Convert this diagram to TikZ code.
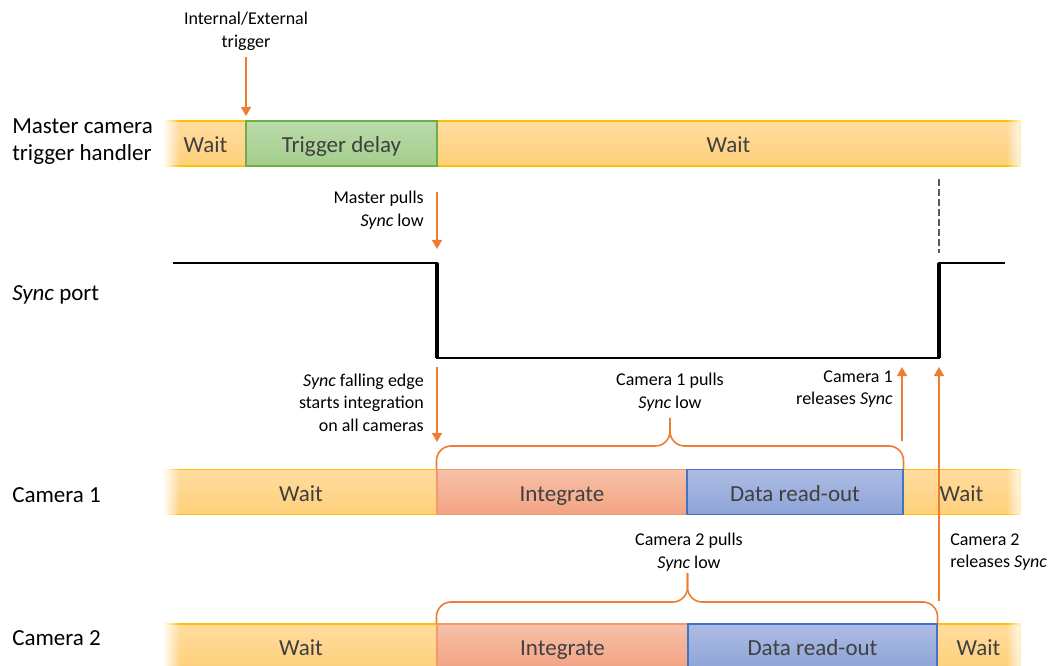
\documentclass[tikz,border=0pt]{standalone}
\usepackage{fontspec}
\setmainfont{Carlito}
\usetikzlibrary{arrows.meta,fadings}

\definecolor{waitTop}{HTML}{FFDC9F}
\definecolor{waitBot}{HTML}{FED07A}
\definecolor{waitLine}{HTML}{FFC000}
\definecolor{trigTop}{HTML}{BADAAB}
\definecolor{trigBot}{HTML}{A4CE8B}
\definecolor{trigLine}{HTML}{70AD47}
\definecolor{intTop}{HTML}{F7C0A9}
\definecolor{intBot}{HTML}{F3A383}
\definecolor{intLine}{HTML}{F19A6B}
\definecolor{roTop}{HTML}{ADBCE3}
\definecolor{roBot}{HTML}{8DA4D8}
\definecolor{roLine}{HTML}{4472C4}
\definecolor{noteOrange}{HTML}{ED7D31}
\definecolor{textGray}{HTML}{404040}

\newcommand\labfont{\fontsize{17.25}{20.25}\selectfont}
\newcommand\notefont{\fontsize{13.5}{16.9}\selectfont}

% white overlays that let the ends of each time bar fade out
\tikzfading[name=fade out left, left color=transparent!0, right color=transparent!100]
\tikzfading[name=fade out right, left color=transparent!100, right color=transparent!0]

% one segment of a time bar: name, x from, x to, y centre, style, text
\newcommand\segnode[6]{%
  \node[#5, minimum width={(#3-#2)*0.75pt}] (#1) at ({(#2+#3)/2},#4) {#6};}
% fading ends of a bar centred at y
\newcommand\barends[1]{%
  \fill[white, path fading=fade out left] (163,#1-26) rectangle (180,#1+26);
  \fill[white, path fading=fade out right] (1006,#1-26) rectangle (1024,#1+26);}

\begin{document}
\begin{tikzpicture}[x=0.75pt,y=-0.75pt,
  lab/.style={font=\labfont, align=left, inner sep=0, anchor=west},
  note/.style={font=\notefont, inner sep=0},
  seg/.style={inner sep=0, minimum height=33.75pt, text height=14pt, text depth=0pt,
    text=textGray, font=\labfont, line width=0.8pt},
  waitseg/.style={seg, top color=waitTop, bottom color=waitBot, draw=waitLine},
  trigseg/.style={seg, top color=trigTop, bottom color=trigBot, draw=trigLine},
  intseg/.style={seg, top color=intTop, bottom color=intBot, draw=intLine},
  roseg/.style={seg, top color=roTop, bottom color=roBot, draw=roLine},
  oarrow/.style={draw=noteOrange, line width=1.2pt, -{Triangle[width=7.5pt,length=6.8pt]}},
  brace/.style={draw=noteOrange, line width=1.2pt, rounded corners=11pt},
  sig/.style={draw=black, line width=1.6pt, line join=miter},
  sigedge/.style={draw=black, line width=2.4pt},
  guide/.style={draw=black!65, line width=0.8pt, dash pattern=on 5pt off 2.5pt}]

\useasboundingbox (0,0) rectangle (1053,666);

% row labels
\node[lab] (lmaster) at (12,142) {Master camera\\trigger handler};
\node[lab] (lsync) at (12,295) {\textit{Sync} port};
\node[lab] (lcam1) at (12,495) {Camera 1};
\node[lab] (lcam2) at (12,638) {Camera 2};

% master camera trigger handler
\segnode{mw1}{165}{246}{143.5}{waitseg}{Wait}
\segnode{mw2}{437}{1020}{143.5}{waitseg}{Wait}
\segnode{mtd}{246}{437}{143.5}{trigseg}{Trigger delay}
\barends{143.5}

% camera 1
\segnode{c1w1}{165}{437}{492}{waitseg}{Wait}
\segnode{c1w2}{903}{1020}{492}{waitseg}{Wait}
\segnode{c1int}{437}{687}{492}{intseg}{Integrate}
\segnode{c1ro}{687}{903}{492}{roseg}{Data read-out}
\barends{492}

% camera 2
\segnode{c2w1}{165}{437}{646.5}{waitseg}{Wait}
\segnode{c2w2}{937}{1020}{646.5}{waitseg}{Wait}
\segnode{c2int}{437}{688}{646.5}{intseg}{Integrate}
\segnode{c2ro}{688}{937}{646.5}{roseg}{Data read-out}
\barends{646.5}

% Sync port level
\coordinate (s0) at (173,263);
\coordinate (s1) at (437,263);
\coordinate (s2) at (437,358);
\coordinate (s3) at (939,358);
\coordinate (s4) at (939,263);
\coordinate (s5) at (1005,263);
\draw[sig] (s0) -- (s1) -- (s2) -- (s3) -- (s4) -- (s5);
\draw[sigedge] (s1) -- (s2);
\draw[sigedge] (s3) -- (s4);
\coordinate (dtop) at (939,179);
\coordinate (dbot) at (939,253);
\draw[guide] (dtop) -- (dbot);

% annotations
\node[note, align=center] (ntrig) at (246,31.5) {Internal/External\\trigger};
\node[note, align=right, anchor=east] (nmaster) at (424,210) {Master pulls\\\textit{Sync} low};
\node[note, align=right, anchor=east] (nfall) at (424,402.5) {\textit{Sync} falling edge\\starts integration\\on all cameras};
\node[note, align=center] (nc1pull) at (670,392) {Camera 1 pulls\\\textit{Sync} low};
\node[note, align=right, anchor=east] (nc1rel) at (893,389) {Camera 1\\releases \textit{Sync}};
\node[note, align=center] (nc2pull) at (689,552) {Camera 2 pulls\\\textit{Sync} low};
\node[note, align=left, anchor=west] (nc2rel) at (950,552) {Camera 2\\releases \textit{Sync}};

% orange arrows
\coordinate (trigA) at (246,57);   \coordinate (trigB) at (246,116);
\coordinate (mpA) at (437,192);    \coordinate (mpB) at (437,249);
\coordinate (feA) at (437,367);    \coordinate (feB) at (437,442);
\coordinate (r1A) at (902,441);    \coordinate (r1B) at (902,367);
\coordinate (r2A) at (939,601);    \coordinate (r2B) at (939,367);
\draw[oarrow] (trigA) -- (trigB);
\draw[oarrow] (mpA) -- (mpB);
\draw[oarrow] (feA) -- (feB);
\draw[oarrow] (r1A) -- (r1B);
\draw[oarrow] (r2A) -- (r2B);

% braces over the busy time of each camera
\coordinate (b1mid) at (670,446);  \coordinate (b1tip) at (670,418);
\draw[brace] (c1int.north west) |- (b1mid) -- (b1tip);
\draw[brace] (b1tip) -- (b1mid) -| (c1ro.north east);
\coordinate (b2mid) at (687.5,602); \coordinate (b2tip) at (687.5,573);
\draw[brace] (c2int.north west) |- (b2mid) -- (b2tip);
\draw[brace] (b2tip) -- (b2mid) -| (c2ro.north east);
\end{tikzpicture}
\end{document}
